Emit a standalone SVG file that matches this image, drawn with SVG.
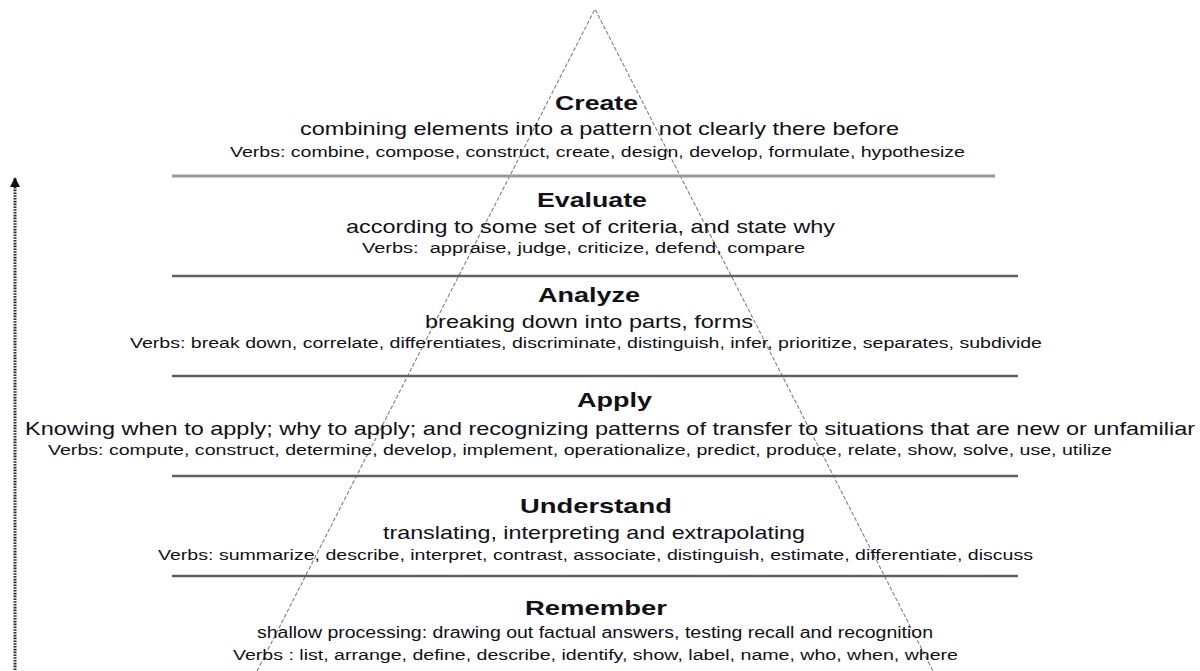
<svg xmlns="http://www.w3.org/2000/svg" width="1200" height="671" viewBox="0 0 1200 671">
<defs>
<style>
text{font-family:"Liberation Sans",Arial,sans-serif;fill:#111118;text-anchor:middle}
.t{font-size:21px;font-weight:bold}
.d{font-size:18.5px}
.ds{font-size:16px}
.v{font-size:15.5px}
.sep{stroke:#606060;stroke-width:2.5}
.sep1{stroke:#9a9a9a;stroke-width:3}
.tri{fill:none;stroke:#808080;stroke-width:1.1;stroke-dasharray:4 2}
.arr{stroke:#2a2a2a;stroke-width:3;stroke-dasharray:1.6 1.2;fill:none}
</style>
<marker id="ah" viewBox="0 0 10 10" refX="9" refY="5" markerWidth="11" markerHeight="10" orient="auto" markerUnits="userSpaceOnUse">
<path d="M0,0 L10,5 L0,10 z" fill="#111"/>
</marker>
</defs>
<rect width="1200" height="671" fill="#fff"/>
<g id="connectors">
<polyline class="tri" points="257,671 595,9 933,671"/>
<line class="arr" x1="15" y1="670" x2="15" y2="178" marker-end="url(#ah)"/>
</g>
<g id="separators">
<line class="sep1" x1="172" y1="176" x2="995" y2="176"/>
<line class="sep" x1="172" y1="276" x2="1018" y2="276"/>
<line class="sep" x1="172" y1="376" x2="1018" y2="376"/>
<line class="sep" x1="172" y1="476" x2="1018" y2="476"/>
<line class="sep" x1="172" y1="576" x2="1018" y2="576"/>
</g>
<g id="create">
<text class="t" x="596.5" y="110" textLength="83" lengthAdjust="spacingAndGlyphs">Create</text>
<text class="d" x="599.5" y="135" textLength="599" lengthAdjust="spacingAndGlyphs">combining elements into a pattern not clearly there before</text>
<text class="v" x="597.5" y="157" textLength="735" lengthAdjust="spacingAndGlyphs">Verbs: combine, compose, construct, create, design, develop, formulate, hypothesize</text>
</g>
<g id="evaluate">
<text class="t" x="592" y="207" textLength="110" lengthAdjust="spacingAndGlyphs">Evaluate</text>
<text class="d" x="590.5" y="233" textLength="489" lengthAdjust="spacingAndGlyphs">according to some set of criteria, and state why</text>
<text class="v" x="583.5" y="253" textLength="443" lengthAdjust="spacingAndGlyphs" xml:space="preserve">Verbs:  appraise, judge, criticize, defend, compare</text>
</g>
<g id="analyze">
<text class="t" x="589" y="302" textLength="102" lengthAdjust="spacingAndGlyphs">Analyze</text>
<text class="d" x="589" y="328" textLength="328" lengthAdjust="spacingAndGlyphs">breaking down into parts, forms</text>
<text class="v" x="586" y="348" textLength="912" lengthAdjust="spacingAndGlyphs">Verbs: break down, correlate, differentiates, discriminate, distinguish, infer, prioritize, separates, subdivide</text>
</g>
<g id="apply">
<text class="t" x="614.5" y="407" textLength="75" lengthAdjust="spacingAndGlyphs">Apply</text>
<text class="d" x="610" y="435" textLength="1170" lengthAdjust="spacingAndGlyphs">Knowing when to apply; why to apply; and recognizing patterns of transfer to situations that are new or unfamiliar</text>
<text class="v" x="580" y="455" textLength="1064" lengthAdjust="spacingAndGlyphs">Verbs: compute, construct, determine, develop, implement, operationalize, predict, produce, relate, show, solve, use, utilize</text>
</g>
<g id="understand">
<text class="t" x="596" y="513" textLength="152" lengthAdjust="spacingAndGlyphs">Understand</text>
<text class="d" x="594" y="539" textLength="422" lengthAdjust="spacingAndGlyphs">translating, interpreting and extrapolating</text>
<text class="v" x="595.5" y="560" textLength="875" lengthAdjust="spacingAndGlyphs">Verbs: summarize, describe, interpret, contrast, associate, distinguish, estimate, differentiate, discuss</text>
</g>
<g id="remember">
<text class="t" x="596" y="615" textLength="142" lengthAdjust="spacingAndGlyphs">Remember</text>
<text class="ds" x="595" y="638" textLength="676" lengthAdjust="spacingAndGlyphs">shallow processing: drawing out factual answers, testing recall and recognition</text>
<text class="v" x="595.5" y="660" textLength="725" lengthAdjust="spacingAndGlyphs">Verbs : list, arrange, define, describe, identify, show, label, name, who, when, where</text>
</g>
</svg>
